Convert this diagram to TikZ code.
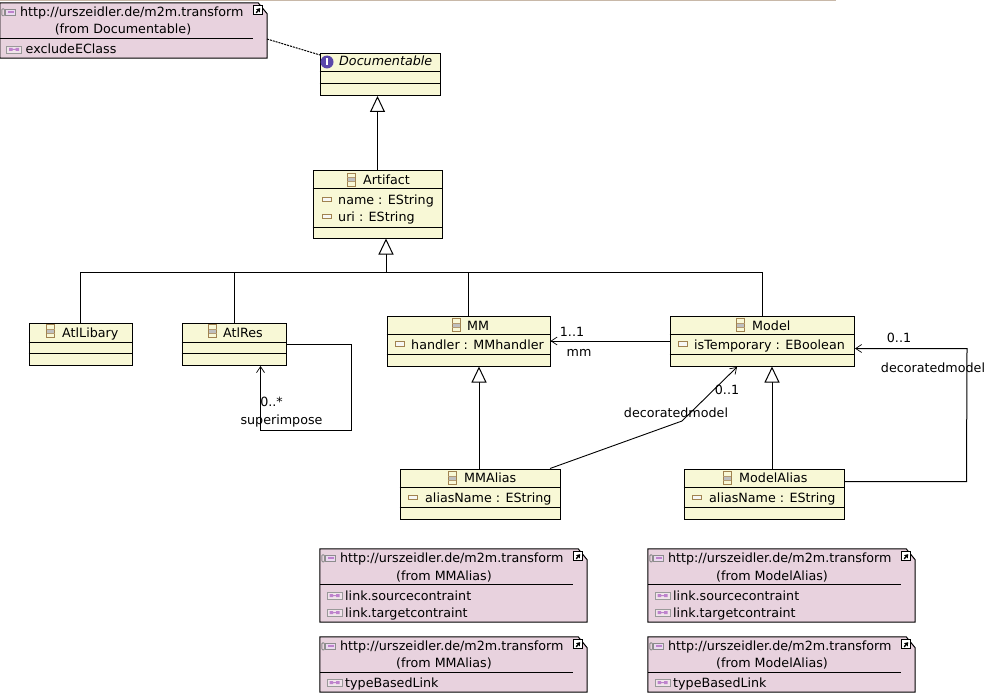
\documentclass[tikz,border=0pt]{standalone}
\usepackage{fontspec}
\setmainfont{DejaVu Sans}
\usetikzlibrary{arrows.meta}
\definecolor{classfill}{RGB}{248,248,214}
\definecolor{notefill}{RGB}{232,210,222}
\definecolor{iconbrown}{RGB}{160,130,80}
\definecolor{iconpurple}{RGB}{90,70,170}
\definecolor{iconpink}{RGB}{190,130,205}
\definecolor{toprule}{RGB}{200,184,168}
\tikzset{
  classbox/.style={draw,fill=classfill,line width=1pt,inner sep=0pt},
  notebox/.style={inner sep=0pt,minimum width=267pt},
  label/.style={font=\fontsize{12.7}{14}\selectfont,inner sep=0pt,anchor=base west},
  labelc/.style={font=\fontsize{12.7}{14}\selectfont,inner sep=0pt,anchor=base},
  link/.style={line width=1pt},
  assoc/.style={link,-{Straight Barb[length=6pt,width=8pt,line width=.7pt]}},
  inherit/.style={link,-{Triangle[open,fill=white,length=16pt,width=15pt,line width=1pt]}},
  classicon/.pic={
    \draw[iconbrown,fill=classfill,line width=.8pt] (-4,-6.5) rectangle (4,6.5);
    \fill[black!25] (-3.5,-2) rectangle (3.5,2);
    \draw[iconbrown!80,line width=.6pt] (-4,-2.2) -- (4,-2.2) (-4,2.2) -- (4,2.2);
  },
  attricon/.pic={
    \draw[iconbrown,fill=classfill!70!black!10,line width=.9pt] (-4.5,-2.2) rectangle (4.5,2.2);
  },
  ifaceicon/.pic={
    \fill[iconpurple] (0,0) circle (6.5);
    \fill[white] (-1.1,-3.5) rectangle (1.1,3.5);
  },
  clipicon/.pic={
    \draw[black!45,line width=.9pt,rounded corners=1pt] (-6,-3) rectangle (-3.2,4);
    \draw[black!45,fill=white!70!iconpink,line width=.7pt] (-2.5,-2.5) rectangle (7.5,3.5);
    \fill[iconpink] (0,-.5) rectangle (6,1.5);
  },
  detailicon/.pic={
    \draw[black!40,fill=notefill!60!white,line width=.9pt] (-7.5,-3.5) rectangle (7.5,3.5);
    \fill[iconpink] (-5,-1.5) rectangle (-1.5,1.5) (1.5,-1.5) rectangle (5,1.5) (-2,-.5) rectangle (2,.5);
  },
  shortcuticon/.pic={
    \draw[black,fill=white,line width=1pt] (-4.5,-4.5) rectangle (4.5,4.5);
    \draw[black,line width=1.4pt,-{Triangle[length=3.5pt,width=4.5pt]}] (-2,2.5) -- (2,-2.2);
  }
}
\begin{document}
\begin{tikzpicture}[x=1pt,y=-1pt]
\useasboundingbox (0,0) rectangle (992,698);
\draw[toprule,line width=1pt] (0,0.5) -- (836,0.5);

% classes
\node[classbox,minimum width=120pt,minimum height=41.5pt] (documentable) at (380,74.75) {};
\node[classbox,minimum width=129pt,minimum height=68pt] (artifact) at (377.5,204) {};
\node[classbox,minimum width=103pt,minimum height=42pt] (atllibary) at (80.5,344) {};
\node[classbox,minimum width=104pt,minimum height=42pt] (atlres) at (234,344) {};
\node[classbox,minimum width=163pt,minimum height=50pt] (mm) at (468.5,341) {};
\node[classbox,minimum width=184pt,minimum height=50pt] (model) at (762,341) {};
\node[classbox,minimum width=160pt,minimum height=50pt] (mmalias) at (480,494) {};
\node[classbox,minimum width=160pt,minimum height=50pt] (modelalias) at (764,494) {};

\foreach \cls/\y in {documentable/72, documentable/84, artifact/188, artifact/227,
    atllibary/342, atllibary/353, atlres/342, atlres/353, mm/334, mm/354,
    model/334, model/354, mmalias/487, mmalias/507, modelalias/487, modelalias/507}
\draw[line width=1pt] (\cls.west |- 0,\y) -- (\cls.east |- 0,\y);

% class names and attributes
\node[label,font=\fontsize{12.7}{14}\selectfont\itshape] (documentabletxt) at (339,66) {Documentable};
\node[label] (artifacttxt) at (363,184) {Artifact};
\node[label] (nametxt) at (338,204) {name : EString};
\node[label] (uritxt) at (338,221) {uri : EString};
\node[label] (atllibarytxt) at (62,337) {AtlLibary};
\node[label] (atlrestxt) at (223,337) {AtlRes};
\node[label] (mmtxt) at (467,330) {MM};
\node[label] (handlertxt) at (411,349) {handler : MMhandler};
\node[label] (modeltxt) at (752,330) {Model};
\node[label] (temporarytxt) at (694,349) {isTemporary : EBoolean};
\node[label] (mmaliastxt) at (464,482) {MMAlias};
\node[label] (mmaliasnametxt) at (425,502.5) {aliasName : EString};
\node[label] (modelaliastxt) at (739,482) {ModelAlias};
\node[label] (modelaliasnametxt) at (709,502.5) {aliasName : EString};

\foreach \x/\y in {351/179.5, 50.5/331, 212.5/331, 456/325, 740.5/325, 452/478, 727/478}
\pic at (\x,\y) {classicon};
\foreach \x/\y in {327/199.5, 327/216.5, 400/344, 683/344, 413/497.5, 697/497.5}
\pic at (\x,\y) {attricon};
\pic at (327,62) {ifaceicon};

% annotation boxes
\node[notebox,minimum height=55pt] (excludenote) at (133.5,30.5) {};
\node[notebox,minimum height=73pt] (mmlinknote) at (453.5,585.5) {};
\node[notebox,minimum height=55pt] (mmtypenote) at (453.5,664.5) {};
\node[notebox,minimum height=73pt] (modellinknote) at (781.5,585.5) {};
\node[notebox,minimum height=55pt] (modeltypenote) at (781.5,664.5) {};

\foreach \note in {excludenote, mmlinknote, mmtypenote, modellinknote, modeltypenote}
{
\draw[fill=notefill,line width=1pt] (\note.south west) -- (\note.north west) -- ([xshift=-9]\note.north east)
    -- ([shift={(0,11)}]\note.north east) -- (\note.south east) -- cycle;
\draw[line width=1pt] ([shift={(0,35.5)}]\note.north west) -- ([shift={(-14.5,35.5)}]\note.north east);
\pic at ([shift={(-9,7.5)}]\note.north east) {shortcuticon};
\pic at ([shift={(8,9)}]\note.north west) {clipicon};
\node[label] (\note url) at ([shift={(20,13.5)}]\note.north west) {http://urszeidler.de/m2m.transform};
}

\node[labelc] (excludefrom) at (123,34) {(from Documentable)};
\node[labelc] (mmlinkfrom) at (444,580) {(from MMAlias)};
\node[labelc] (mmtypefrom) at (444,667) {(from MMAlias)};
\node[labelc] (modellinkfrom) at (772,580) {(from ModelAlias)};
\node[labelc] (modeltypefrom) at (772,667) {(from ModelAlias)};

\node[label] (excludetxt) at (25.5,54) {excludeEClass};
\node[label] (mmsource) at (345,600) {link.sourcecontraint};
\node[label] (mmtarget) at (345,617) {link.targetcontraint};
\node[label] (mmtype) at (345,687) {typeBasedLink};
\node[label] (modelsource) at (673,600) {link.sourcecontraint};
\node[label] (modeltarget) at (673,617) {link.targetcontraint};
\node[label] (modeltype) at (673,687) {typeBasedLink};

\foreach \x/\y in {14/49.5, 334.5/595.5, 334.5/612.5, 334.5/682.5, 662.5/595.5, 662.5/612.5, 662.5/682.5}
\pic at (\x,\y) {detailicon};

% connectors
\coordinate (bus) at (386,272);
\coordinate (notedot) at (267,39);
\coordinate (documentabledot) at (320,55);
\draw[link,dash pattern=on 2pt off 1pt] (notedot) -- (documentabledot);

\draw[inherit] (artifact.north) -- (artifact.north |- documentable.south);
\draw[inherit] (bus) -- (bus |- artifact.south);
\draw[link] (atllibary.north |- bus) -- (model.north |- bus);
\foreach \to in {atllibary, atlres, mm, model}
\draw[link] (\to.north |- bus) -- (\to.north);
\draw[inherit] ([xshift=-1]mmalias.north) -- ([xshift=10.5]mm.south);
\draw[inherit] ([xshift=8]modelalias.north) -- ([xshift=10]model.south);

\draw[assoc] (model.west) -- (mm.east);

\coordinate (mmaliasfrom) at (550,468.5);
\coordinate (mmaliasbend) at (682,421);
\coordinate (modeltip) at (737,367);
\draw[assoc,line width=.9pt] (mmaliasfrom) -- (mmaliasbend) -- (modeltip);

\coordinate (modelaliasfrom) at (844.5,481.5);
\coordinate (modelaliasa) at (966.5,481.5);
\coordinate (modelaliasb) at (967,348.5);
\coordinate (modelaliastip) at (855,348.5);
\draw[assoc] (modelaliasfrom) -- (modelaliasa) -- (modelaliasb) -- (modelaliastip);

\coordinate (atlresfrom) at (287,344.5);
\coordinate (atlresa) at (351,344.5);
\coordinate (atlresb) at (351,430);
\coordinate (atlresc) at (260.5,430);
\coordinate (atlrestip) at (260.5,366);
\draw[assoc] (atlresfrom) -- (atlresa) -- (atlresb) -- (atlresc) -- (atlrestip);

% association labels
\node[labelc] (superimposemul) at (271.5,406) {0..*};
\node[labelc] (superimposetxt) at (281.5,424) {superimpose};
\node[labelc] (mmmul) at (572,336) {1..1};
\node[labelc] (mmrole) at (579,356) {mm};
\node[labelc] (decoratedmul) at (727,394) {0..1};
\node[labelc] (decoratedtxt) at (676,417) {decoratedmodel};
\node[labelc] (selfmul) at (899,342.5) {0..1};
\node[labelc] (selftxt) at (933,372) {decoratedmodel};
\end{tikzpicture}
\end{document}
